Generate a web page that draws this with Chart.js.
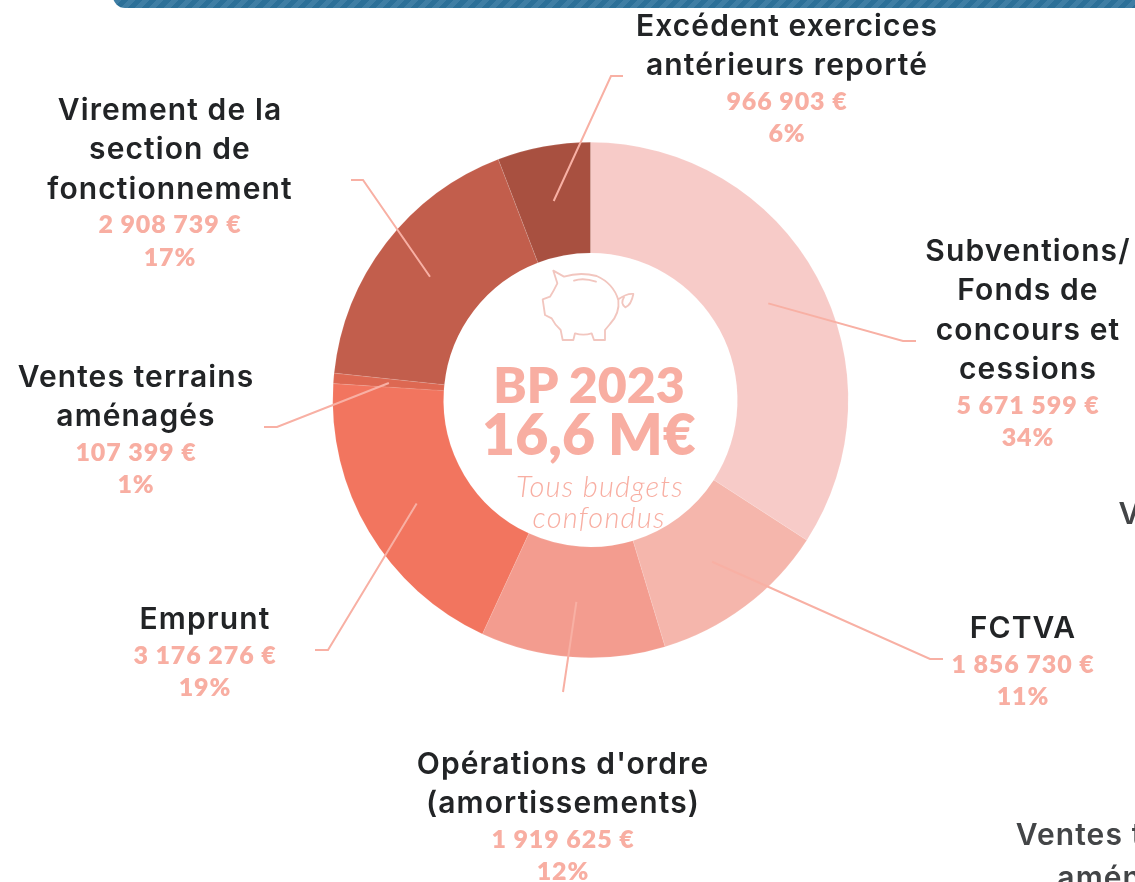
<!DOCTYPE html>
<html lang="fr"><head><meta charset="utf-8">
<script src="https://cdn.jsdelivr.net/npm/chart.js@4"></script>
<style>
html,body{margin:0;padding:0;background:#fff;width:1135px;height:882px;overflow:hidden}
#stage{position:relative;width:1135px;height:882px;overflow:hidden}
canvas{position:absolute;left:0;top:0}
#band{position:absolute;left:113px;top:-12px;width:1040px;height:19.5px;border-radius:0 0 0 12px;
background:repeating-linear-gradient(-45deg,#2c7098 0 5px,#3f7ea4 5px 10px)}
.t{position:absolute;transform:translate(-50%,-50%);white-space:nowrap;text-align:center}
.h{font:600 30px/39px Inter;color:#222426;letter-spacing:1.1px}
.v{font:800 25px/33px Lato;color:#f8aea2;letter-spacing:.9px}
.g{color:#434547}
svg{position:absolute;left:440px;top:250px}
</style></head><body><div id="stage">
<canvas id="c" width="1135" height="882"></canvas>
<div id="band"></div>
<svg width="300" height="120" viewBox="0 0 900 360" fill="none" stroke="#f2c6bf" stroke-width="5.5" stroke-linejoin="round" stroke-linecap="round">
<path d="M340 62 L372 80 Q420 65 470 78 Q520 100 535 150 Q540 190 510 222 L495 240 L495 270 L462 270 L455 250 Q430 258 405 250 L400 270 L368 270 L362 240 Q345 225 335 205 L315 195 L308 148 L330 140 Q340 125 352 100 Z"/>
<path d="M402 92 Q430 82 468 95"/>
<path d="M535 148 Q560 130 580 132 Q574 165 556 172 Q540 160 552 142"/>
</svg>
<div id="labels"></div>
</div>
<script>
const categories=["Subventions/\nFonds de\nconcours et\ncessions","FCTVA","Opérations d'ordre\n(amortissements)","Emprunt","Ventes terrains\naménagés","Virement de la\nsection de\nfonctionnement","Excédent exercices\nantérieurs reporté"];
const amounts=[5671599,1856730,1919625,3176276,107399,2908739,966903];
const amountLabels=["5 671 599 €","1 856 730 €","1 919 625 €","3 176 276 €","107 399 €","2 908 739 €","966 903 €"];
const percentLabels=["34%","11%","12%","19%","1%","17%","6%"];
const sliceColors=["#f7cbc8","#f5b6ac","#f39c8f","#f2755f","#dd6852","#c25e4c","#a85040"];
const centerLines=["BP 2023","16,6 M€","Tous budgets","confondus"];

// label layout: x, y of first line, in the same order as categories
const labelPos=[[1028,250],[1023,627],[563,763],[205,618],[136,376],[170,109],[787,25]];
// leader elbows: outer end and elbow
const leaders=[[[903,341],[916,341]],[[930,659],[943,659]],[[563,692]],[[328,650],[315,650]],[[277,427],[264,427]],[[363,180],[351,180]],[[611,76],[623,76]]];

const box=document.getElementById('labels');
function add(txt,x,y,cls,css){const d=document.createElement('div');d.className='t '+cls;d.textContent=txt;d.style.left=x+'px';d.style.top=y+'px';if(css)d.style.cssText+=css;box.appendChild(d);}
categories.forEach((c,i)=>{let [x,y]=labelPos[i];const ls=c.split('\n');
 ls.forEach((l,j)=>add(l,x,y+j*39.4,'h'));
 let yy=y+(ls.length-1)*39.4+35.5;add(amountLabels[i],x,yy,'v');add(percentLabels[i],x,yy+32.5,'v');});
add("V",1130,513,'h g');add("Ventes terrains",1134,834,'h g');add("aménagés",1137,877,'h g');
add(centerLines[0],589,384,'v','font:800 50px/52px Lato;letter-spacing:0');
add(centerLines[1],589,433,'v','font:800 57px/59px Lato;letter-spacing:0');
add(centerLines[2],600,486,'v','font:italic 300 29px/30px Lato;letter-spacing:1.2px');
add(centerLines[3],599,517,'v','font:italic 300 29px/30px Lato;letter-spacing:1.2px');

const leaderPlugin={id:'leaders',afterDatasetsDraw(ch){const g=ch.ctx,arcs=ch.getDatasetMeta(0).data;g.save();g.strokeStyle='#f8b0a4';g.lineWidth=2;
 arcs.forEach((a,i)=>{const p=a.getCenterPoint();g.beginPath();g.moveTo(p.x,p.y);leaders[i].forEach(q=>g.lineTo(q[0],q[1]));g.stroke();});g.restore();}};

new Chart(document.getElementById('c'),{type:'doughnut',
 data:{labels:categories,datasets:[{data:amounts,backgroundColor:sliceColors,borderWidth:.5,borderColor:'rgba(255,255,255,.22)'}]},
 plugins:[leaderPlugin],
 options:{responsive:false,animation:false,cutout:'57%',rotation:0,
  layout:{padding:{left:332.5,right:286.5,top:142,bottom:224}},
  plugins:{legend:{display:false},tooltip:{enabled:false}}}});
</script></body></html>
